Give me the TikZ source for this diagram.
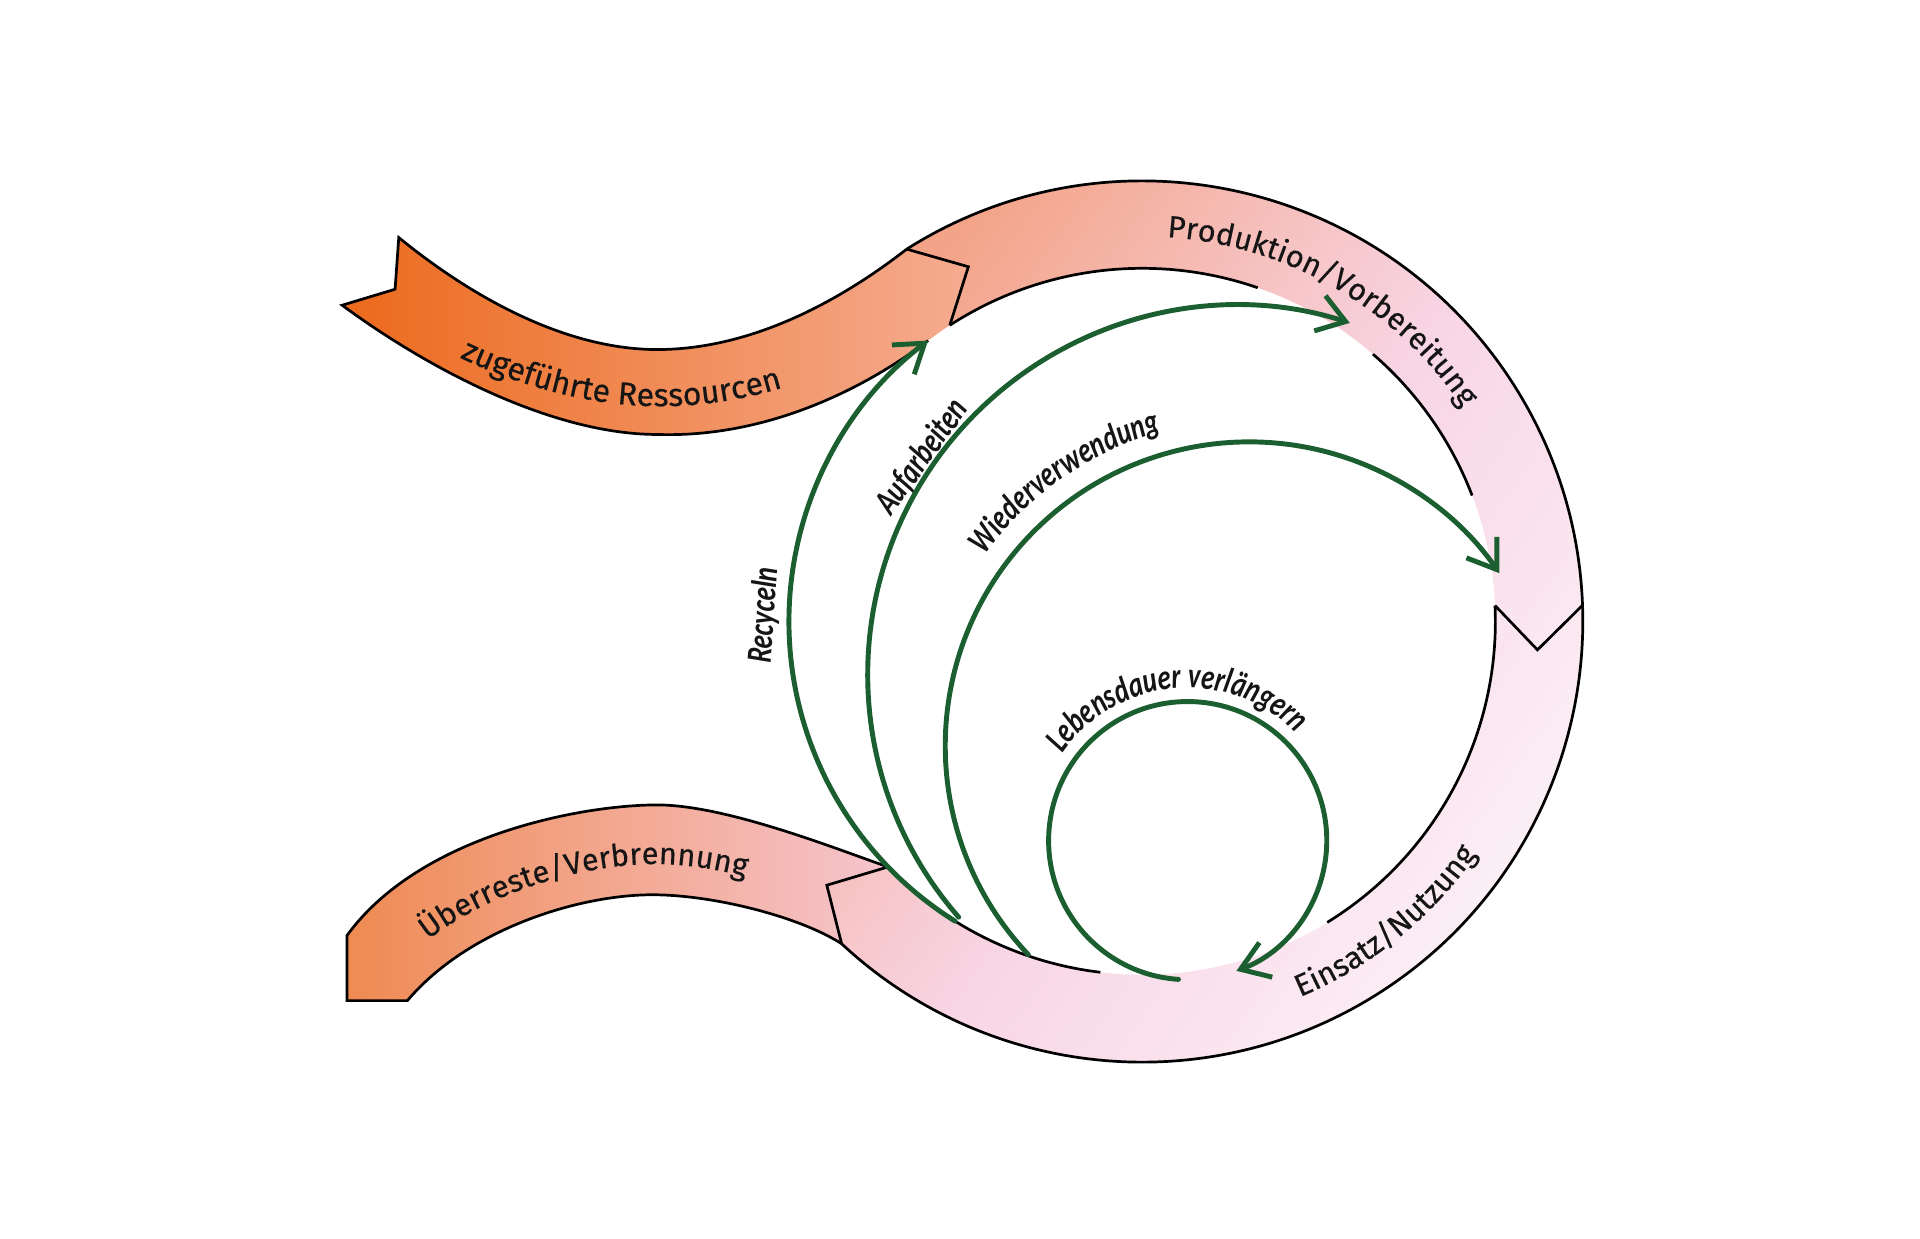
\documentclass[tikz,border=0pt]{standalone}
\usepackage{fontspec}
\newfontfamily\labfont[FakeBold=0.4]{Fira Sans}
\newfontfamily\handfont[FakeStretch=0.75]{Carlito}
\usetikzlibrary{arrows.meta,decorations.text,calc}
\definecolor{gr}{HTML}{1B5E30}
\definecolor{txt}{HTML}{151515}
\definecolor{or1}{HTML}{EC6A1C}
\definecolor{or2}{HTML}{F5AC90}
\definecolor{ub1}{HTML}{EF8A52}
\definecolor{ub2}{HTML}{F6C5CE}
\definecolor{rg1}{HTML}{F3A488}
\definecolor{rg2}{HTML}{F8D5E5}
\definecolor{rg3}{HTML}{FCF3F8}
\pgfdeclarehorizontalshading{orshade}{100bp}{color(0bp)=(or1); color(25bp)=(or1); color(75bp)=(or2); color(100bp)=(or2)}
\pgfdeclarehorizontalshading{ubshade}{100bp}{color(0bp)=(ub1); color(25bp)=(ub1); color(75bp)=(ub2); color(100bp)=(ub2)}
\pgfdeclarehorizontalshading{rgshade}{100bp}{color(0bp)=(rg1); color(25bp)=(rg1); color(50bp)=(rg2); color(75bp)=(rg3); color(100bp)=(rg3)}
\begin{document}
\begin{tikzpicture}[x=0.5pt,y=-0.5pt,
  blk/.style={draw=black, line width=1.1pt},
  garrow/.style={draw=gr, line width=2pt, line cap=round, -{Straight Barb[length=11pt,width=15pt]}},
  hand/.style={font=\handfont\bfseries\itshape\fontsize{14.5}{17}\selectfont, text=txt, inner sep=0pt}]
\useasboundingbox (0,0) rectangle (1560,1006);
% centres
\coordinate (C) at (928,505);
\coordinate (A) at (1005,548);
\coordinate (W) at (1015,606);
\coordinate (L) at (965,683);
% ring key points
\coordinate (hO) at ($(C)+(237.7:358)$);
\coordinate (hT) at ($(C)+(243.9:321)$);
\coordinate (hI) at ($(C)+(237:287)$);
\coordinate (oB) at ($(C)+(232.7:287)$);
\coordinate (nI) at ($(C)+(357.4:287)$);
\coordinate (nT) at ($(C)+(4.1:322)$);
\coordinate (nO) at ($(C)+(357.9:358)$);
\coordinate (jO) at ($(C)+(133:358)$);
\coordinate (jT) at ($(C)+(140.1:334)$);
\coordinate (jI) at ($(C)+(136:287)$);
\coordinate (i2) at ($(C)+(310.8:287)$);
\coordinate (i4) at ($(C)+(96.8:287)$);
% green starts
\coordinate (rS) at ($(C)+(122:287)$);
\coordinate (aS) at ($(A)+(138.9:300)$);
\coordinate (wS) at ($(W)+(136.6:247)$);
\coordinate (lS) at ($(L)+(93.8:113)$);

% ---------- fills ----------
\shade[shading=rgshade, shading angle=-35]
  (hO) arc[start angle=237.7, end angle=493, radius=358]
  -- (jT) -- (jI) arc[start angle=496, end angle=237, radius=287]
  -- (hT) -- cycle;
\shade[shading=orshade]
  (324,193) .. controls (384,242) and (460,284) .. (534,284)
  .. controls (610,284) and (682,245) .. (hO)
  -- (hT) -- (hI) arc[start angle=237, end angle=232.7, radius=287]
  .. controls (705,314) and (625,356) .. (534,353)
  .. controls (450,353) and (350,301) .. (278,248)
  -- (321,235) -- cycle;
\shade[shading=ubshade]
  (jI) .. controls (680,690) and (590,654) .. (534,654)
  .. controls (470,654) and (340,680) .. (282,760)
  -- (282,813) -- (331,813)
  .. controls (380,755) and (470,727) .. (530,727)
  .. controls (580,727) and (650,745) .. (jO)
  -- (jT) -- cycle;

% ---------- outlines ----------
\draw[blk] (hO) .. controls (682,245) and (610,284) .. (534,284)
  .. controls (460,284) and (384,242) .. (324,193) -- (321,235) -- (278,248)
  .. controls (350,301) and (450,353) .. (534,353)
  .. controls (625,356) and (705,314) .. (oB);
\draw[blk] (hO) -- (hT) -- (hI);
\draw[blk] (hO) arc[start angle=237.7, end angle=493, radius=358];
\draw[blk] (hI) arc[start angle=237, end angle=289.1, radius=287];
\draw[blk] (i2) arc[start angle=310.8, end angle=339.1, radius=287];
\draw[blk] (nI) arc[start angle=357.4, end angle=418.4, radius=287];
\draw[blk] (i4) arc[start angle=96.8, end angle=136, radius=287];
\draw[blk] (nI) -- (nT) -- (nO);
\draw[blk] (jO) -- (jT) -- (jI);
\draw[blk] (jI) .. controls (680,690) and (590,654) .. (534,654)
  .. controls (470,654) and (340,680) .. (282,760)
  -- (282,813) -- (331,813)
  .. controls (380,755) and (470,727) .. (530,727)
  .. controls (580,727) and (650,745) .. (jO);

% ---------- green loops ----------
\draw[garrow] (rS) arc[start angle=122, end angle=232.7, radius=287];
\draw[garrow] (aS) arc[start angle=138.9, end angle=287.8, radius=300];
\draw[garrow] (wS) arc[start angle=136.6, end angle=325.4, radius=247];
\draw[garrow] (lS) arc[start angle=93.8, end angle=429.5, radius=113];

% ---------- labels ----------
\path[decorate, decoration={text along path, text align=center,
  text={|\labfont\fontsize{13}{15}\selectfont\color{txt}|zugeführte Ressourcen}}]
  (290,240) .. controls (362,295) and (455,330) .. (534,330)
  .. controls (610,331) and (680,303) .. (725,275);
\path[decorate, decoration={text along path, text align=center,
  text={|\labfont\fontsize{12.5}{15}\selectfont\color{txt}|Produktion/Vorbereitung}}]
  ($(C)+(240:313)$) arc[start angle=240, end angle=360, radius=313];
\path[decorate, decoration={text along path, text align=center,
  text={|\labfont\fontsize{12.5}{15}\selectfont\color{txt}|Einsatz/Nutzung}}]
  ($(C)+(91:331)$) arc[start angle=91, end angle=11, radius=331];
\path[decorate, decoration={text along path, text align=center,
  text={|\labfont\fontsize{12.5}{15}\selectfont\color{txt}|Überreste/Verbrennung}}]
  (318,792) .. controls (370,730) and (470,702) .. (532,702)
  .. controls (570,702) and (610,712) .. (645,724);
\node[hand, rotate=86] (recy) at (621,500) {Recyceln};
\node[hand, rotate=54] (aufa) at (749,371) {Aufarbeiten};
\path[decorate, decoration={text along path, text align=center,
  text={|\handfont\bfseries\itshape\fontsize{14.5}{17}\selectfont\color{txt}|Wiederverwendung}}]
  ($(W)+(200:265)$) arc[start angle=200, end angle=270, radius=265];
\path[decorate, decoration={text along path, text align=center,
  text={|\handfont\bfseries\itshape\fontsize{14.5}{17}\selectfont\color{txt}|Lebensdauer verlängern}}]
  ($(L)+(205:124)$) arc[start angle=205, end angle=325, radius=124];
\end{tikzpicture}
\end{document}
